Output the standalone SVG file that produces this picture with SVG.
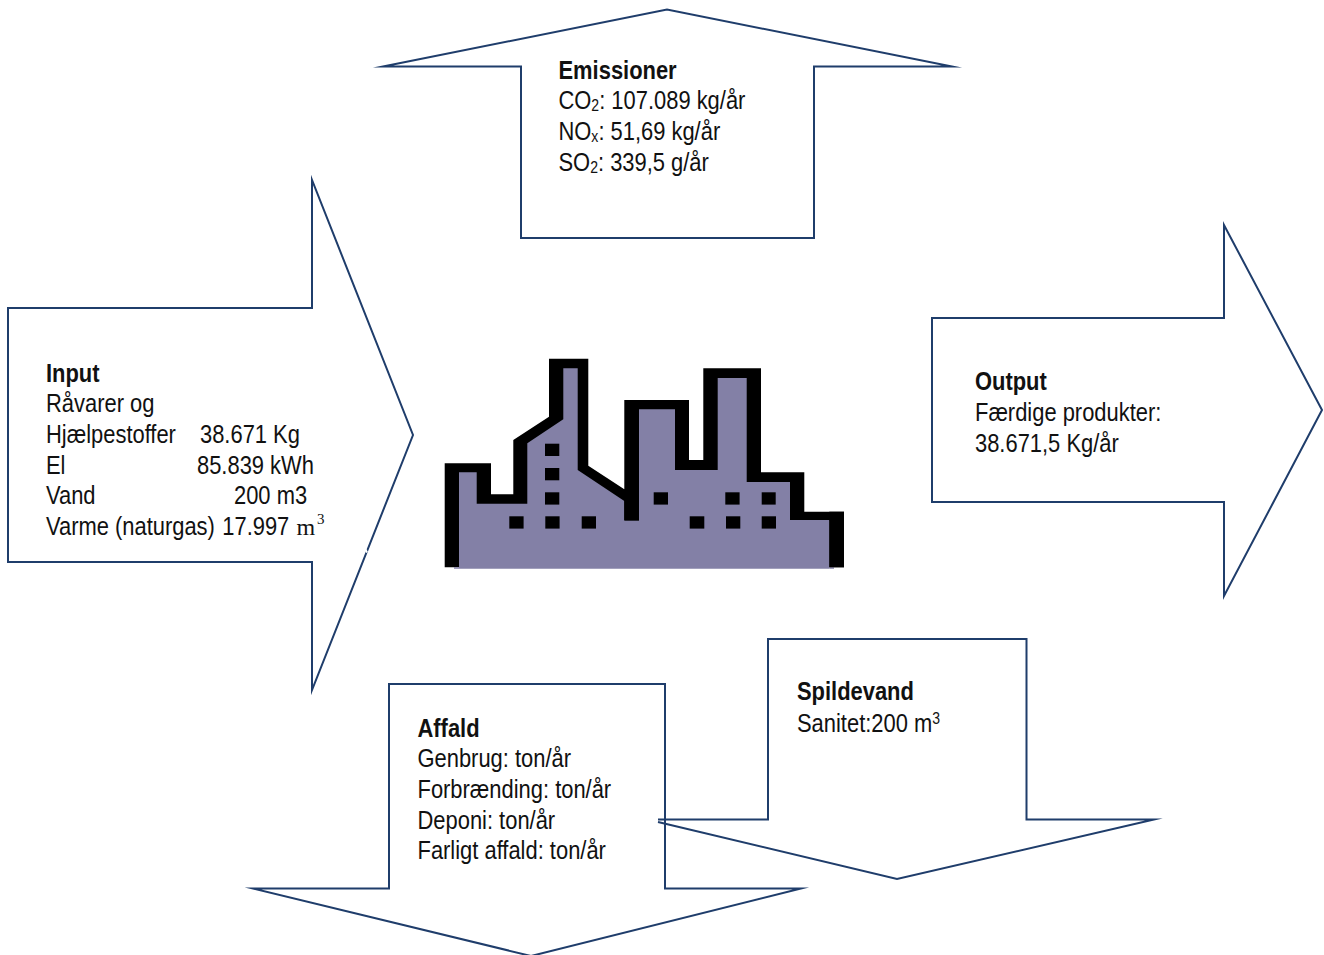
<svg xmlns="http://www.w3.org/2000/svg" width="1324" height="955" viewBox="0 0 1324 955">
<style>
.a{fill:none;stroke:#1f3d6b;stroke-width:2;stroke-miterlimit:20}
text{font-family:"Liberation Sans",Arial,sans-serif;font-size:25px;fill:#111}
.b{font-weight:bold}
.s{font-size:16px}
.m{font-family:"Liberation Serif","Times New Roman",serif}
.k{fill:#000}
</style>
<rect width="1324" height="955" fill="#fff"/>
<g id="factory">
<polygon class="k" points="444.7,567.3 444.7,463.3 491,463.3 491,494.3 513.3,494.3 513.3,440 549,416.7 549,358.7 588.3,358.7 588.3,465.7 624.3,489.3 624.3,400 689,400 689,460 703.3,460 703.3,368.3 761,368.3 761,472.3 804.3,472.3 804.3,511.7 844,511.7 844,567.3"/>
<polygon fill="#8380a6" points="454,568.7 459,568.7 459,472.3 476.7,472.3 476.7,503.7 527.3,503.7 527.3,443.3 563.3,419.3 563.3,368.3 577.7,368.3 577.7,470 624.3,501 624.3,520.7 639,520.7 639,409.3 675,409.3 675,470 717.7,470 717.7,378 746.7,378 746.7,482 790,482 790,520.7 829.3,520.7 829.3,568.7 834,568.7 834,567.3 454,567.3"/>
<polygon fill="#8380a6" points="459,520 829.3,520 829.3,568.7 459,568.7"/>
<polygon class="k" points="829.3,511.7 844,511.7 844,567.3 829.3,567.3"/>
<polygon class="k" points="624.3,489.3 639,489.3 639,520.7 624.3,520.7"/>
<g class="k">
<rect x="545" y="443.7" width="14.3" height="12.3"/>
<rect x="545" y="468" width="14.3" height="12.3"/>
<rect x="545" y="492.3" width="14.3" height="12.3"/>
<rect x="509.3" y="516.3" width="14.3" height="12.3"/>
<rect x="545.3" y="516.3" width="14.3" height="12.3"/>
<rect x="581.7" y="516.3" width="14.3" height="12.3"/>
<rect x="653.7" y="492.3" width="14.3" height="12.3"/>
<rect x="725.3" y="492.3" width="14.3" height="12.3"/>
<rect x="761.7" y="492.3" width="14" height="12.3"/>
<rect x="689.7" y="516.3" width="14.6" height="12.3"/>
<rect x="726" y="516.3" width="14.3" height="12.3"/>
<rect x="761.7" y="516.3" width="14.3" height="12.3"/>
</g>
</g>
<g id="connectors">
<polygon id="arrow-emissioner" class="a" points="383,66.500 667,9.500 952,66.500 814,66.500 814,238 521,238 521,66.500"/>
<polygon id="arrow-input" class="a" points="8,308 312,308 312,180 413,435 312,690 312,562 8,562"/>
<path d="M365.500 549.500l1.500 3" fill="none" stroke="#fff" stroke-width="2"/>
<polygon id="arrow-output" class="a" points="932,318 1224,318 1224,225 1322,410 1224,596 1224,502 932,502"/>
<polyline id="arrow-spildevand" class="a" points="658,819.500 768,819.500 768,639 1026.500,639 1026.500,819.500 1154,819.500 897,879 658,822"/>
<polyline id="arrow-affald" class="a" points="531,956 253,888.500 389,888.500 389,684 665,684 665,888.500 801,888.500 531,956"/>
</g>
<g id="node-emissioner" transform="translate(558.500 0) scale(.877 1)">
<text x="0" y="79" class="b">Emissioner</text>
<text x="0" y="109">CO<tspan class="s" dy="2">2</tspan><tspan dy="-2">: 107.089 kg/år</tspan></text>
<text x="0" y="140">NO<tspan class="s" dy="2">x</tspan><tspan dy="-2">: 51,69 kg/år</tspan></text>
<text x="0" y="171">SO<tspan class="s" dy="2">2</tspan><tspan dy="-2">: 339,5 g/år</tspan></text>
</g>
<g id="node-input">
<g transform="translate(46 0) scale(.877 1)">
<text x="0" y="382" class="b">Input</text>
<text x="0" y="412">Råvarer og</text>
<text x="0" y="443">Hjælpestoffer</text>
<text x="0" y="474">El</text>
<text x="0" y="504">Vand</text>
<text x="0" y="535">Varme (naturgas)</text>
<text x="201" y="535">17.997</text>
</g>
<text transform="translate(200 443) scale(.877 1)">38.671 Kg</text>
<text transform="translate(197 474) scale(.877 1)">85.839 kWh</text>
<text transform="translate(234 504) scale(.877 1)">200 m3</text>
<text class="m" x="296.500" y="535" style="font-size:24px">m</text>
<text class="m" x="317" y="524" style="font-size:15px">3</text>
</g>
<g id="node-output" transform="translate(975 0) scale(.877 1)">
<text x="0" y="390" class="b">Output</text>
<text x="0" y="421">Færdige produkter:</text>
<text x="0" y="452">38.671,5 Kg/år</text>
</g>
<g id="node-spildevand" transform="translate(797 0) scale(.877 1)">
<text x="0" y="700" class="b">Spildevand</text>
<text x="0" y="732">Sanitet:200 m<tspan class="s" dy="-8">3</tspan></text>
</g>
<g id="node-affald" transform="translate(417.500 0) scale(.877 1)">
<text x="0" y="737" class="b">Affald</text>
<text x="0" y="767">Genbrug: ton/år</text>
<text x="0" y="798">Forbrænding: ton/år</text>
<text x="0" y="829">Deponi: ton/år</text>
<text x="0" y="859">Farligt affald: ton/år</text>
</g>
</svg>
